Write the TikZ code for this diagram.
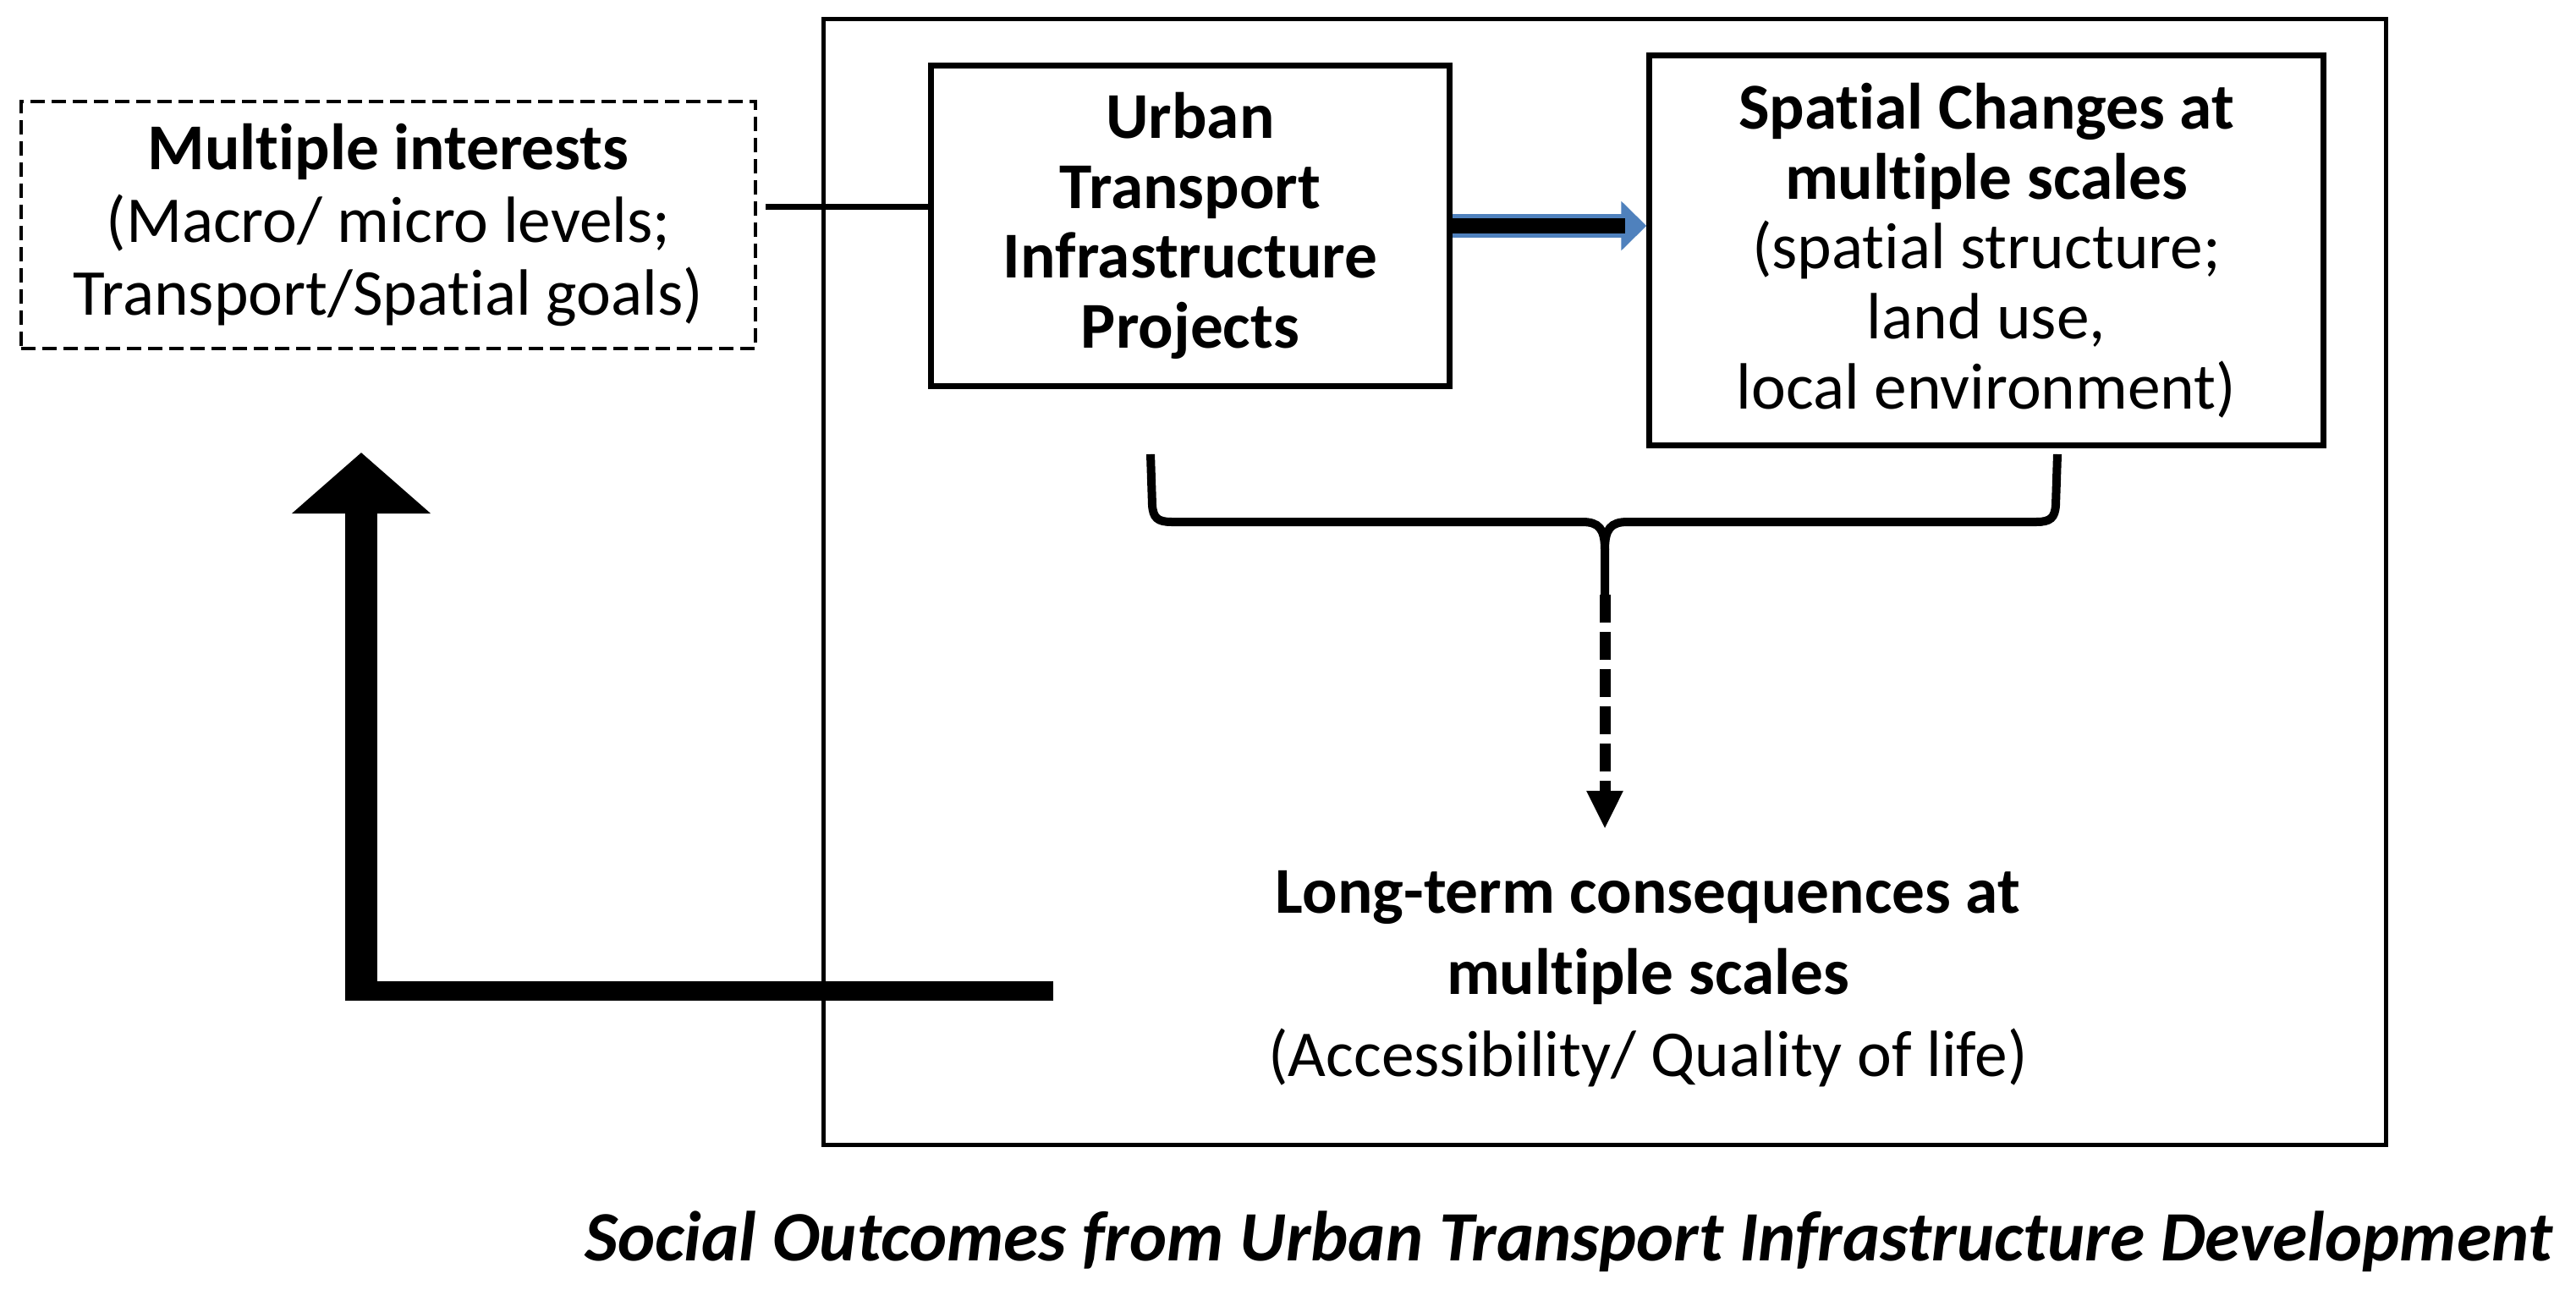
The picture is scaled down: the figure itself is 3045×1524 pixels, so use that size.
\documentclass[tikz,border=0pt]{standalone}
\usepackage{fontspec}
\setmainfont{Carlito}[Ligatures=NoCommon]
\definecolor{arrowblue}{RGB}{79,129,189}
\usetikzlibrary{arrows.meta,positioning}

\begin{document}
\begin{tikzpicture}[x=0.01cm,y=-0.01cm,
  box/.style={draw,line width=0.07cm,align=center,font=\fontsize{22}{23.5}\selectfont},
  dashbox/.style={box,line width=0.04cm,dash pattern=on 0.17cm off 0.08cm,font=\fontsize{22}{24.5}\selectfont},
  link/.style={line width=0.07cm}]
  \useasboundingbox (0,0) rectangle (3045,1524);
  % frame round the project side
  \node[draw,line width=0.05cm,minimum width=18.45cm,minimum height=13.31cm] (frame) at (1897,688) {};
  % boxes
  \node[dashbox,minimum width=8.68cm,minimum height=2.92cm] (interests) at (459,266) {\textbf{Multiple interests}\\(Macro/ micro levels;\\Transport/Spatial goals)};
  \node[box,minimum width=6.12cm,minimum height=3.78cm] (projects) at (1407,267) {\textbf{Urban}\\\textbf{Transport}\\\textbf{Infrastructure}\\\textbf{Projects}};
  \node[box,minimum width=7.96cm,minimum height=4.6cm] (changes) at (2348,296) {\textbf{Spatial Changes at}\\\textbf{multiple scales}\\(spatial structure;\\land use,\\local environment)};
  \node[align=center,font=\fontsize{22}{27.5}\selectfont] (outcomes) at (1948,1157) {\textbf{Long-term consequences at}\\\textbf{multiple scales}\\(Accessibility/ Quality of life)};
  \node[anchor=east,font=\fontsize{23.8}{26}\selectfont\bfseries\itshape] (caption) at (3030,1468) {Social Outcomes from Urban Transport Infrastructure Development};
  % interests -- projects
  \coordinate (linkstart) at ([yshift=0.21cm]interests.east);
  \draw[link,shorten <=0.1cm] (linkstart) -- (linkstart -| projects.west);
  % projects -> changes
  \draw[arrowblue,line width=0.27cm,-{Triangle[length=0.3cm,width=0.57cm]}] (projects.east) -- (projects.east -| changes.west);
  \draw[line width=0.18cm,shorten >=0.25cm] (projects.east) -- (projects.east -| changes.west);
  % brace under both boxes
  \coordinate (braceL) at (1360,537);
  \coordinate (braceR) at (2432,537);
  \coordinate (bracetip) at (1897,703);
  \coordinate (dashend) at (1897,980);
  \draw[line width=0.1cm] (braceL) -- (1362,597) .. controls (1363,612) and (1368,617) .. (1385,617) -- (1870,617) .. controls (1890,617) and (1897,625) .. (1897,650) -- (bracetip);
  \draw[line width=0.1cm] (braceR) -- (2430,597) .. controls (2429,612) and (2424,617) .. (2407,617) -- (1924,617) .. controls (1904,617) and (1897,625) .. (1897,650);
  \draw[line width=0.13cm,dash pattern=on 0.33cm off 0.11cm,-{Triangle[length=0.45cm,width=0.4cm]}] (bracetip) -- (dashend);
  % feedback to the interests
  \coordinate (fbstart) at (1245,1171);
  \coordinate (fbcorner) at (410,1171);
  \coordinate (fbbase) at (427,1183);
  \coordinate (fbtip) at (427,535);
  \draw[line width=0.23cm] (fbstart) -- (fbcorner);
  \draw[line width=0.37cm,-{Triangle[length=0.72cm,width=1.6cm]}] (fbbase) -- (fbtip);
\end{tikzpicture}
\end{document}
